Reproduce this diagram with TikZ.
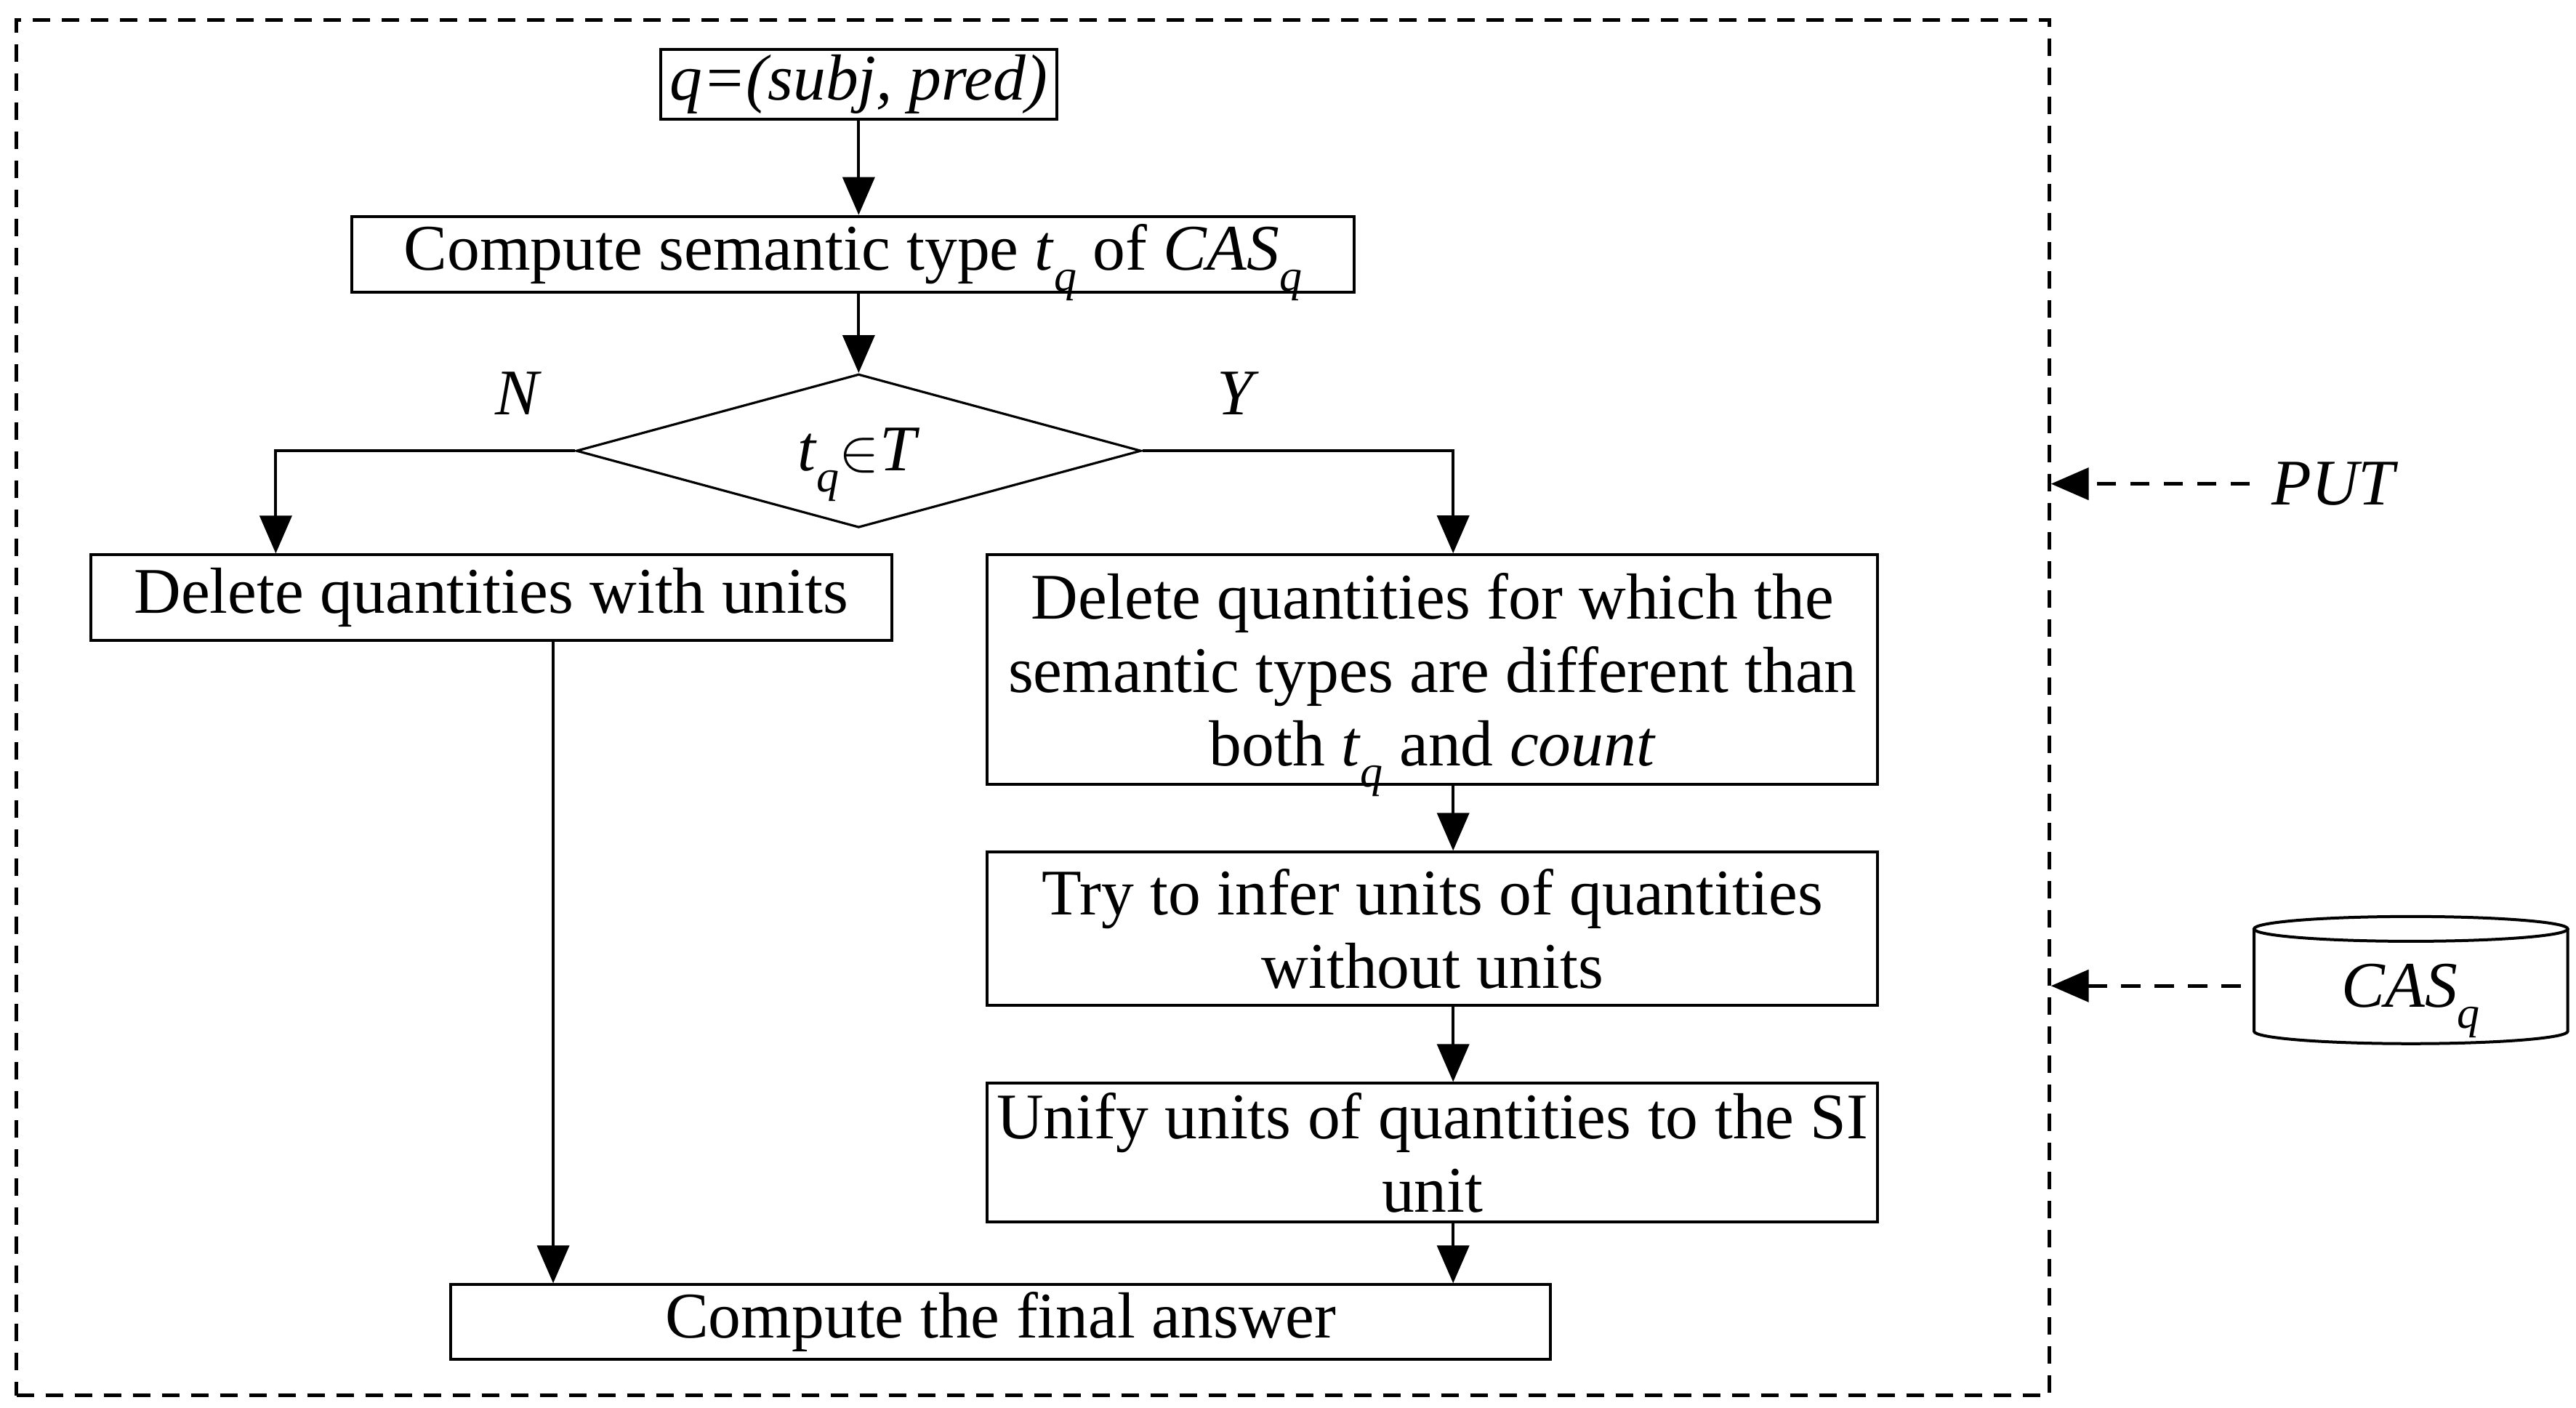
\documentclass[tikz,border=0pt]{standalone}
\usepackage{fontspec}
\setmainfont{Liberation Serif}
\usetikzlibrary{arrows.meta,shapes.geometric,calc}
\newcommand{\qsub}[1]{\raisebox{-0.32em}[0pt][0pt]{\fontsize{15.5}{15.5}\selectfont\itshape #1}}
\begin{document}
\begin{tikzpicture}[x=0.568pt,y=-0.568pt,
  font=\fontsize{22.4}{25.3}\selectfont,
  box/.style={draw, line width=1pt, inner sep=0pt, align=center},
  arr/.style={-{Triangle[length=13pt,width=11pt]}, line width=1pt},
  darr/.style={-{Triangle[length=13pt,width=11pt]}, line width=1.2pt, dash pattern=on 6.7pt off 4.8pt},
]
\useasboundingbox (0,0) rectangle (1560,852.6);
\node[draw, line width=1.2pt, dash pattern=on 6pt off 4pt, minimum width=699.2pt, minimum height=473.1pt, inner sep=0] (frame) at (625.5,428.5) {};
\node[box, minimum width=136.3pt, minimum height=23.9pt] (q) at (520,51) {\itshape q=(subj, pred)};
\node[box, minimum width=344.8pt, minimum height=26.1pt] (cst) at (516.5,154) {Compute semantic type \textit{t}\qsub{q} of \textit{CAS}\qsub{q}};
\node[draw, diamond, line width=0.8pt, aspect=3, minimum width=194.3pt, minimum height=52.8pt, inner sep=0] (dia) at (520,273) {\textit{t}\qsub{q}$\in$\textit{T}};
\node (nl) at (313,238) {\itshape N};
\node (yl) at (748,238) {\itshape Y};
\node[box, minimum width=275.5pt, minimum height=29.5pt] (dl) at (297.5,362) {Delete quantities with units};
\node[box, minimum width=306.2pt, minimum height=79pt] (dr) at (867.5,405.5) {Delete quantities for which the\\semantic types are different than\\both \textit{t}\qsub{q} and \textit{count}};
\node[box, minimum width=306.2pt, minimum height=52.8pt] (inf) at (867.5,562.5) {Try to infer units of quantities\\without units};
\node[box, minimum width=306.2pt, minimum height=47.7pt] (uni) at (867.5,698) {Unify units of quantities to the SI\\unit};
\node[box, minimum width=378.3pt, minimum height=25.6pt] (fin) at (606,800.5) {Compute the final answer};
\coordinate (lx) at (167,0);
\coordinate (rx) at (880,0);
\coordinate (mx) at (335,0);
\draw[arr] (q.south) -- (q.south |- cst.north);
\draw[arr] (q.south |- cst.south) -- (dia.north);
\draw[arr] (dia.west) -| (lx |- dl.north);
\draw[arr] (dia.east) -| (rx |- dr.north);
\draw[arr] (rx |- dr.south) -- (rx |- inf.north);
\draw[arr] (rx |- inf.south) -- (rx |- uni.north);
\draw[arr] (rx |- uni.south) -- (rx |- fin.north);
\draw[arr] (mx |- dl.south) -- (mx |- fin.north);
\node (put) at (1413,293) {\itshape PUT};
\draw[darr] ([xshift=-4pt]put.west) -- (frame.east |- put.west);
\draw[line width=1pt] (1365,562.5) -- (1365,624.5) arc[start angle=180,end angle=0,x radius=95,y radius=7.5] -- (1555,562.5);
\draw[line width=1pt] (1460,562.5) ellipse[x radius=95, y radius=7.5];
\node[inner sep=0] (cas) at (1460,597) {\textit{CAS}\qsub{q}};
\coordinate (casw) at (1357,597);
\draw[darr] (casw) -- (frame.east |- casw);
\end{tikzpicture}
\end{document}
